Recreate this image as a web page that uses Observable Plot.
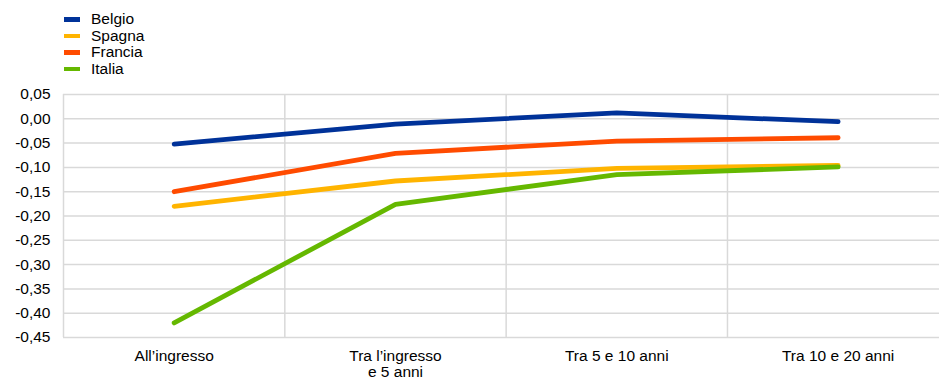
<!DOCTYPE html>
<html>
<head>
<meta charset="utf-8">
<script src="https://cdn.jsdelivr.net/npm/d3@7"></script>
<script src="https://cdn.jsdelivr.net/npm/@observablehq/plot@0.6"></script>
<style>
  html, body { margin: 0; padding: 0; background: #fff; overflow: hidden; }
  body { width: 939px; height: 381px; font-family: "Liberation Sans", Arial, sans-serif; }
  #legend { height: 84px; box-sizing: border-box; padding-top: 11px; padding-left: 64px; }
  .row { display: flex; align-items: center; height: 16.5px; font-size: 15.5px; color: #000; }
  .sw { width: 16px; height: 4.5px; margin-right: 11px; }
  svg { display: block; }
</style>
</head>
<body>
<div id="legend"></div>
<div id="chart"></div>
<script>
const categories = ["All\u2019ingresso", "Tra l\u2019ingresso\ne 5 anni", "Tra 5 e 10 anni", "Tra 10 e 20 anni"];
const seriesNames = ["Belgio", "Spagna", "Francia", "Italia"];
const seriesColors = ["#003299", "#FFB400", "#FF4B00", "#65B800"];
const belgio = [-0.052, -0.011, 0.012, -0.006];
const spagna = [-0.180, -0.128, -0.102, -0.096];
const francia = [-0.150, -0.071, -0.046, -0.039];
const italia = [-0.420, -0.176, -0.115, -0.099];
const yTicks = [0.05, 0, -0.05, -0.10, -0.15, -0.20, -0.25, -0.30, -0.35, -0.40, -0.45];

const seriesValues = [belgio, spagna, francia, italia];
const data = [];
seriesNames.forEach((s, si) => seriesValues[si].forEach((v, i) => data.push({series: s, i, value: v})));

const legend = document.getElementById("legend");
seriesNames.forEach((s, i) => {
  const r = document.createElement("div");
  r.className = "row";
  r.innerHTML = `<span class="sw" style="background:${seriesColors[i]}"></span><span>${s}</span>`;
  legend.appendChild(r);
});

const fmt = d => (Math.abs(d) < 1e-9 ? "0,00" : d.toFixed(2).replace(".", ","));

const chart = Plot.plot({
  width: 939,
  height: 297,
  marginLeft: 63,
  marginRight: 0,
  marginTop: 10,
  marginBottom: 44,
  style: {fontFamily: "Liberation Sans, Arial, sans-serif", fontSize: "15.5px", color: "#000", background: "#fff"},
  x: {type: "linear", domain: [-0.5, 3.458]},
  y: {domain: [-0.45, 0.05]},
  color: {domain: seriesNames, range: seriesColors},
  marks: [
    Plot.ruleY(yTicks, {stroke: "#d9d9d9", strokeWidth: 1.5}),
    Plot.ruleX([-0.5, 0.5, 1.5, 2.5, 3.5], {y1: -0.45, y2: 0.05, stroke: "#d9d9d9", strokeWidth: 1.5}),
    Plot.axisY({ticks: yTicks, tickFormat: fmt, tickSize: 0, tickPadding: 13, fill: "#000", fontSize: 15.5, label: null}),
    Plot.axisX({ticks: [0, 1, 2, 3], tickFormat: i => categories[i], tickSize: 0, tickPadding: 12, lineHeight: 1.03, fill: "#000", fontSize: 15.5, label: null}),
    Plot.line(data, {x: "i", y: "value", z: "series", stroke: "series", strokeWidth: 4.8, strokeLinecap: "round", strokeLinejoin: "round"})
  ]
});
document.getElementById("chart").appendChild(chart);
</script>
</body>
</html>
